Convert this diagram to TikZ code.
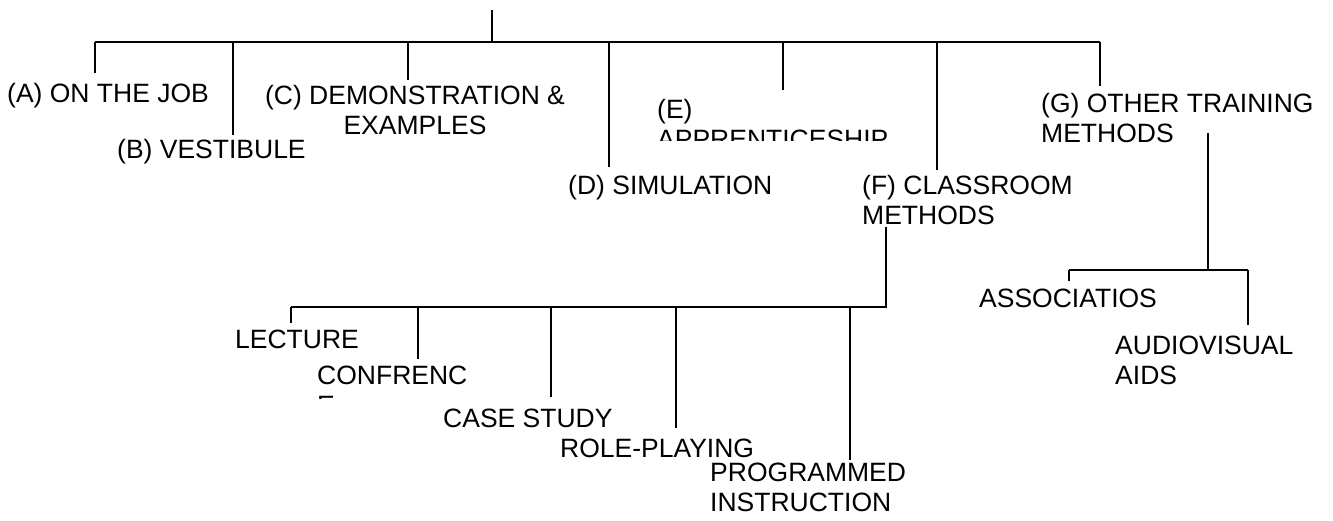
\documentclass[tikz,border=0pt]{standalone}
\usepackage{fontspec}
\setmainfont{Liberation Sans}
\usetikzlibrary{calc}
\tikzset{
  branch/.style={draw=black, line width=1.5pt},
  methodtext/.style={font=\fontsize{26.5}{30}\selectfont, inner sep=0pt,
    anchor=base west, align=left}
}

\begin{document}
\begin{tikzpicture}[x=1pt,y=-1pt]
    \useasboundingbox (0,0) rectangle (1333,521);

    % training methods (two-line nodes sit on their last baseline)
    \coordinate (root) at (492,10);
    \coordinate (barL) at (95,42);
    \coordinate (barR) at (1100,42);
    \draw[branch] (root) -- (root |- barL);
    \draw[branch] (barL) -- (barR);

    \node[methodtext] (onjob) at (7,102.5) {(A) ON THE JOB};
    \node[methodtext] (vestibule) at (117,158.5) {(B) VESTIBULE};
    \node[methodtext, anchor=base, align=center] (demo) at (415,135)
        {(C) DEMONSTRATION \&\\EXAMPLES};
    \node[methodtext] (simul) at (568,194.5) {(D) SIMULATION};
    \begin{scope}
        \clip (640,60) rectangle (1000,141);
        \node[methodtext] (apprent) at (657,148.5) {(E)\\APPRENTICESHIP};
    \end{scope}
    \node[methodtext] (classroom) at (862,224.5) {(F) CLASSROOM\\METHODS};
    \node[methodtext] (other) at (1041,142.5) {(G) OTHER TRAINING\\METHODS};

    \foreach \n/\x/\y in {onjob/95/73,vestibule/233/135,demo/408/80,simul/609/167,
        apprent/783/90,classroom/937/170,other/1100/86}
    {
        \coordinate (\n-tip) at (\x,\y);
        \draw[branch] (\n-tip |- barL) -- (\n-tip);
    }

    % classroom methods
    \coordinate (classroom-stem) at (886,227);
    \coordinate (classL) at (291,307);
    \coordinate (classR) at (886,307);
    \draw[branch] (classroom-stem) -- (classR) -- (classL);

    \node[methodtext] (lecture) at (235,348.5) {LECTURE};
    \begin{scope}
        \clip (300,350) rectangle (480,398.5);
        \node[methodtext] (confer) at (317,414.5) {CONFRENC\\E};
    \end{scope}
    \node[methodtext] (casestudy) at (443,427.5) {CASE STUDY};
    \node[methodtext] (roleplay) at (560,457.5) {ROLE-PLAYING};
    \node[methodtext] (programmed) at (710,511) {PROGRAMMED\\INSTRUCTION};

    \foreach \n/\x/\y in {lecture/291/323,confer/418/359,casestudy/551/397,
        roleplay/676/428,programmed/850/460}
    {
        \coordinate (\n-tip) at (\x,\y);
        \draw[branch] (\n-tip |- classL) -- (\n-tip);
    }

    % other methods
    \coordinate (other-stem) at (1208,133);
    \coordinate (otherL) at (1069,270);
    \coordinate (otherR) at (1248,270);
    \draw[branch] (other-stem) -- (other-stem |- otherL);
    \draw[branch] (otherL) -- (otherR);

    \node[methodtext] (assoc) at (979,307.5) {ASSOCIATIOS};
    \node[methodtext] (audio) at (1115,384.5) {AUDIOVISUAL\\AIDS};

    \foreach \n/\x/\y in {assoc/1069/281,audio/1248/325}
    {
        \coordinate (\n-tip) at (\x,\y);
        \draw[branch] (\n-tip |- otherL) -- (\n-tip);
    }
\end{tikzpicture}
\end{document}
